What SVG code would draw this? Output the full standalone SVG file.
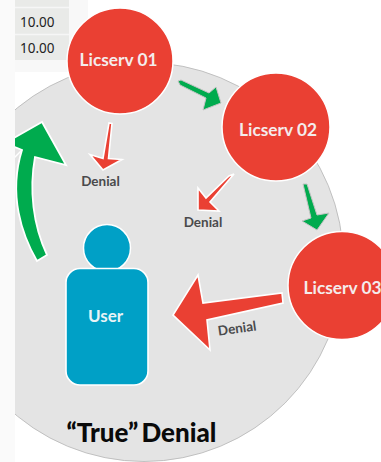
<svg xmlns="http://www.w3.org/2000/svg" width="381" height="462" viewBox="0 0 381 462">
<style>
text{font-family:Lato,"Open Sans","Liberation Sans",sans-serif;text-anchor:middle}
.srv{fill:#ea4033;stroke:#fff;stroke-width:1.5}
.lbl{fill:#f4ecec;font-size:17.300px;font-weight:700}
.den{fill:#4a4a4c;font-size:13.500px;font-weight:700}
.g{fill:#00ab4e;stroke:#fff;stroke-width:1.800;stroke-linejoin:miter}
.gs{fill:#00ab4e;stroke:#c4c4c4;stroke-width:1;stroke-linejoin:miter}
.r{fill:#ea4033;stroke:#fff;stroke-width:1.600}
.num{fill:#222;font-size:13.500px;font-family:"Noto Sans","Liberation Sans",sans-serif;text-anchor:start}
</style>
<rect width="381" height="462" fill="#fff"/>
<g id="table">
<rect x="15" y="0" width="73" height="72" fill="#f8f8f8"/>
<rect x="15" y="0" width="54" height="60" fill="#e9eae8"/>
<path d="M15 7.500H69M15 34.500H69" stroke="#f6f6f6" stroke-width="1.500"/>
<text class="num" x="20" y="26.500">10.00</text>
<text class="num" x="20" y="52.500">10.00</text>
</g>
<circle id="background-disc" cx="144" cy="262" r="199.500" fill="#e4e4e4" stroke="#b5b5b5" stroke-width=".8"/>
<g id="connectors">
<path id="return-arrow" class="g" d="M42 122L66 165L35 157C29 190 33 225 47 255L37 261C22 235 8 195 22 150L5 143Z"/>
<path d="M14 158L22 150" stroke="#fff" stroke-width="1.500" fill="none"/>
<path id="c1" class="gs" d="M178 81L180 85L206 98L203 110L221 103L216 87L209 93L181 80Z"/>
<path id="c2" class="gs" d="M303 184L307 184L317 215L329 213L317 230L302 221L311 218Z"/>
<path id="d1" class="r" d="M112 123.500L109 123L103 158.500L90 154.500L103 170L122 159.500L108.500 158.500Z"/>
<path id="d2" class="r" d="M234 174L229 176L206 198L198 188L198 210L219 211L210 202Z"/>
<path id="d3" class="r" d="M282 293L283 303L207 320L210 350L173 315L198 275L203 303Z"/>
</g>
<g id="licserv-01"><circle class="srv" cx="120" cy="61" r="53"/><text class="lbl" x="118.500" y="66">Licserv 01</text></g>
<g id="licserv-02"><circle class="srv" cx="276" cy="127" r="54"/><text class="lbl" x="278" y="135.500">Licserv 02</text></g>
<g id="licserv-03"><circle class="srv" cx="342" cy="285.500" r="54"/><text class="lbl" x="342.500" y="294">Licserv 03</text></g>
<g id="user">
<circle cx="107" cy="248" r="23.500" fill="#00a0c6" stroke="#fff" stroke-width="1.500"/>
<rect x="66" y="268.500" width="82" height="116.500" rx="14" fill="#00a0c6" stroke="#fff" stroke-width="1.600"/>
<text x="105.500" y="321.500" fill="#e8f3f6" font-size="17" font-weight="700">User</text>
</g>
<text class="den" x="100.500" y="186">Denial</text>
<text class="den" x="203" y="227">Denial</text>
<text class="den" x="237" y="333" transform="rotate(-8 237 328)">Denial</text>
<text x="141.500" y="442" fill="#0a0a0a" font-size="26" font-weight="900" word-spacing="-3">“True” Denial</text>
<rect id="left-strip" x="0" y="0" width="15" height="462" fill="#fafafa"/>
</svg>
